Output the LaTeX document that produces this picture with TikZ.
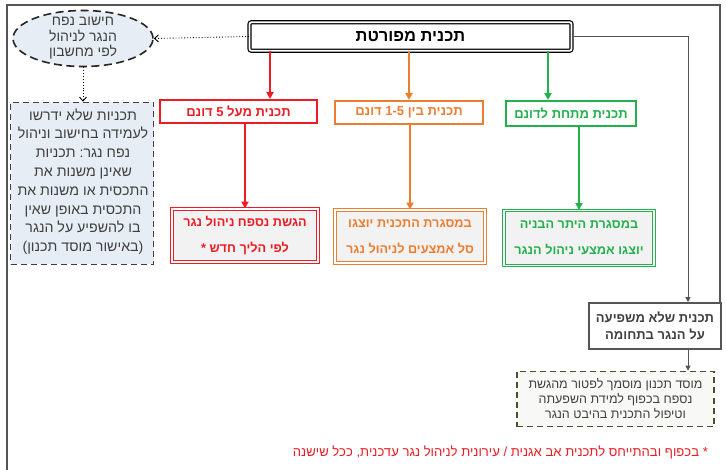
\documentclass[tikz,border=0pt]{standalone}
\usepackage{fontspec}
\setmainfont[Script=Hebrew]{Liberation Sans}
\usetikzlibrary{arrows.meta,shapes.geometric,calc}
\TeXXeTstate=1
\newcommand{\RL}[1]{\beginR #1\endR}
\definecolor{cred}{RGB}{237,28,36}
\definecolor{corange}{RGB}{237,125,49}
\definecolor{cgreen}{RGB}{34,177,76}
\definecolor{framegray}{RGB}{85,85,85}
\definecolor{txtgray}{RGB}{64,64,64}
\definecolor{boxgray}{RGB}{242,242,242}
\definecolor{paleblue}{RGB}{231,237,245}
\definecolor{olive}{RGB}{80,76,44}
\definecolor{olivefill}{RGB}{248,248,246}
\tikzset{
  mainbox/.style={draw=black, double=white, double distance=1.8pt, line width=1.2pt, rounded corners=2pt, fill=white, inner sep=0pt, font=\fontsize{16.5}{19}\selectfont\bfseries},
  levelbox/.style={draw=#1, line width=2pt, fill=white, inner sep=0pt, text=#1, font=\fontsize{13}{15}\selectfont\bfseries},
  resbox/.style={draw=#1, double=white, double distance=1.6pt, line width=0.9pt, fill=boxgray, inner sep=0pt, text=#1, align=center, font=\fontsize{12.7}{26}\selectfont\bfseries},
  conn/.style={draw=#1, line width=2pt, -{Triangle[length=7pt,width=7pt]}},
  dotconn/.style={draw=black, dotted, line width=0.9pt, -{Straight Barb[length=4pt,width=7pt]}},
  grayconn/.style={draw=framegray, line width=1pt, -{Triangle[length=5pt,width=5pt]}},
  dashbox/.style={draw=txtgray, dash pattern=on 6pt off 4pt, line width=1.6pt, fill=paleblue, inner sep=0pt},
  plaintxt/.style={text=txtgray, align=center, inner sep=0pt},
}
\begin{document}
\begin{tikzpicture}[x=1pt,y=-1pt]
\useasboundingbox (0,0) rectangle (726,470);
\fill[white] (0,0) rectangle (726,470);
% frame
\draw[framegray, line width=1.2pt] (7,5) -- (720,5) -- (720,350);
\draw[framegray, line width=2pt] (7,470) -- (7,4.4);

% main box
\node[mainbox, minimum width=322pt, minimum height=28.5pt] (main) at (410.5,36.5) {\RL{תכנית מפורטת}};

% ellipse
\node[ellipse, draw=black!85, dash pattern=on 8pt off 4.5pt, line width=1.6pt, fill=paleblue, minimum width=140pt, minimum height=56pt, inner sep=0pt] (calc) at (83,38.5) {};
\node[plaintxt, font=\fontsize{14}{15.5}\selectfont] (calctxt) at (calc) {\RL{חישוב נפח}\\ \RL{הנגר לניהול}\\ \RL{לפי מחשבון}};

% left dashed box
\node[dashbox, minimum width=143pt, minimum height=162pt] (exempt) at (82,183.5) {};
\node[plaintxt, font=\fontsize{14.2}{18.8}\selectfont] (exempttxt) at (83,181.5) {\RL{תכניות שלא ידרשו}\\ \RL{לעמידה בחישוב וניהול}\\ \RL{נפח נגר\hbox{:} תכניות}\\ \RL{שאינן משנות את}\\ \RL{התכסית או משנות את}\\ \RL{התכסית באופן שאין}\\ \RL{בו להשפיע על הנגר}\\ )\RL{באישור מוסד תכנון}(};

% level boxes
\node[levelbox=cred, minimum width=157pt, minimum height=23pt] (big) at (238.5,111.5) {\RL{תכנית מעל 5 דונם}};
\node[levelbox=corange, minimum width=148pt, minimum height=23pt] (mid) at (409,112.5) {\RL{תכנית בין \beginL 1-5\endL{} דונם}};
\node[levelbox=cgreen, minimum width=130pt, minimum height=25pt] (small) at (571,113.5) {\RL{תכנית מתחת לדונם}};

% result boxes
\node[resbox=cred, minimum width=146pt, minimum height=53pt] (bigres) at (245,235.5) {\RL{הגשת נספח ניהול נגר}\\ \RL{לפי הליך חדש *}};
\node[resbox=corange, minimum width=150pt, minimum height=53pt] (midres) at (410,236.5) {\RL{במסגרת התכנית יוצגו}\\ \RL{סל אמצעים לניהול נגר}};
\node[resbox=cgreen, minimum width=150pt, minimum height=55pt] (smallres) at (579,238) {\RL{במסגרת היתר הבניה}\\ \RL{יוצגו אמצעי ניהול הנגר}};

% no-impact box
\node[draw=framegray, line width=1.6pt, fill=white, minimum width=132pt, minimum height=46pt, inner sep=0pt, text=txtgray, align=center, font=\fontsize{13}{17}\selectfont\bfseries] (noimp) at (655,326) {\RL{תכנית שלא משפיעה}\\ \RL{על הנגר בתחומה}};

% olive box
\node[draw=olive, dash pattern=on 6pt off 4pt, line width=1.6pt, fill=olivefill, minimum width=197pt, minimum height=55pt, inner sep=0pt, text=txtgray, align=center, font=\fontsize{12.5}{15}\selectfont] (waiver) at (615.5,399) {\RL{מוסד תכנון מוסמך לפטור מהגשת}\\ \RL{נספח בכפוף למידת השפעתה}\\ \RL{וטיפול התכנית בהיבט הנגר}};

% footnote
\node[anchor=east, inner sep=0pt, text=cred, font=\fontsize{13.1}{15}\selectfont] (note) at (708,452) {\RL{* בכפוף ובהתייחס לתכנית אב אגנית / עירונית לניהול נגר עדכנית\hbox{,} ככל שישנה}};

% helper coordinates
\coordinate (xr) at (270,0);
\coordinate (xg) at (548,0);
\coordinate (xn) at (688,0);

% connectors
\draw[conn=cred] (main.south -| xr) -- (big.north -| xr);
\draw[conn=corange] (main.south -| mid.north) -- (mid.north);
\draw[conn=cgreen] (main.south -| xg) -- (small.north -| xg);
\draw[conn=cred] (big.south -| bigres.north) -- (bigres.north);
\draw[conn=corange] (mid.south -| midres.north) -- (midres.north);
\draw[conn=cgreen] (small.south -| smallres.north) -- (smallres.north);
\draw[dotconn] (main.west) -- (calc.east);
\draw[dotconn] (calc.south) -- (exempt.north -| calc.south);
\draw[grayconn] (main.east) -| (noimp.north -| xn);
\draw[grayconn] (noimp.south -| xn) -- (waiver.north -| xn);
\end{tikzpicture}
\end{document}
